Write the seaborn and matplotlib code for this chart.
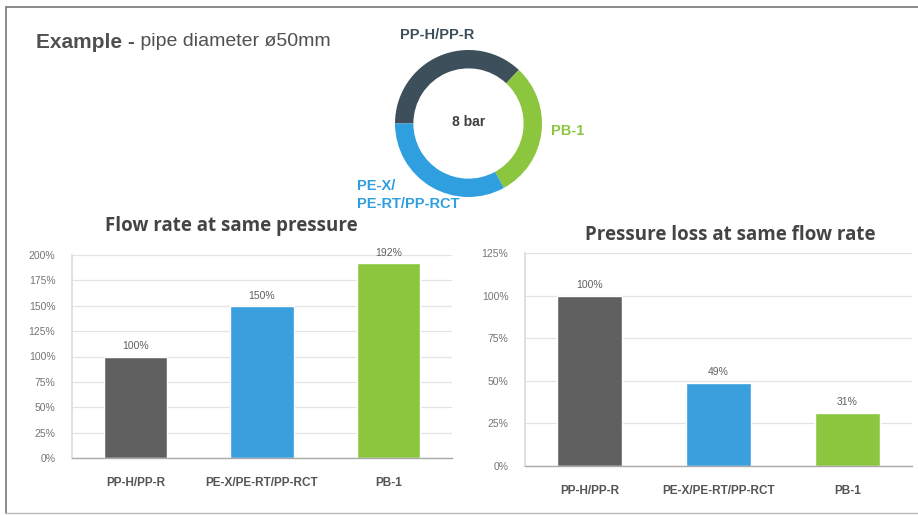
import matplotlib
matplotlib.use("Agg")
import matplotlib.pyplot as plt
import seaborn as sns
import pandas as pd

# ---- data ----
categories = ["PP-H/PP-R", "PE-X/PE-RT/PP-RCT", "PB-1"]
flow_rate = [100, 150, 192]
pressure_loss = [100, 49, 31]
flow_ticks = [0, 25, 50, 75, 100, 125, 150, 175, 200]
loss_ticks = [0, 25, 50, 75, 100, 125]
donut_labels = ["PP-H/PP-R", "PB-1", "PE-X/\nPE-RT/PP-RCT"]
donut_shares = [37, 30, 33]

bar_colors = ["#606060", "#3a9fdd", "#8cc63f"]
donut_colors = ["#3e4f5c", "#8cc63f", "#2f9fe0"]

sns.set_theme(style="white")
plt.rcParams['font.family'] = ['Liberation Sans', 'DejaVu Sans']

W, H = 918, 515
fig = plt.figure(figsize=(W / 100, H / 100), dpi=100)
fig.patch.set_facecolor("white")

def fx(x):
    return x / W

def fy(y):
    return 1 - y / H

# frame
fig.add_artist(plt.Line2D([fx(6), fx(6)], [fy(7), fy(513)], color="#777777", lw=1.2))
fig.add_artist(plt.Line2D([fx(6), fx(918)], [fy(7), fy(7)], color="#777777", lw=1.2))
fig.add_artist(plt.Line2D([fx(6), fx(918)], [fy(513), fy(513)], color="#bbbbbb", lw=1.0))

# header text
t1 = fig.text(fx(36), fy(42), "Example -", fontsize=15, fontweight="bold", color="#505050",
              va="center", ha="left")
fig.canvas.draw()
bb = t1.get_window_extent(renderer=fig.canvas.get_renderer())
fig.text(bb.x1 / W, fy(42), " pipe diameter ø50mm", fontsize=14, color="#505050",
         va="center", ha="left")

# ---- donut ----
dax = fig.add_axes([fx(395), fy(197), fx(147), 147 / H])
dax.pie(donut_shares, colors=donut_colors, startangle=180, counterclock=False,
        radius=1.0, wedgeprops=dict(width=0.25, edgecolor="none"))
dax.set_xlim(-1.0, 1.0)
dax.set_ylim(-1.0, 1.0)
dax.set_aspect("equal")
dax.text(0, 0.02, "8 bar", ha="center", va="center", fontsize=10, fontweight="bold",
         color="#404040")
fig.text(fx(437), fy(35), donut_labels[0], ha="center", va="center", fontsize=10.5,
         fontweight="bold", color=donut_colors[0])
fig.text(fx(551), fy(131), donut_labels[1], ha="left", va="center", fontsize=10.5,
         fontweight="bold", color=donut_colors[1])
fig.text(fx(357), fy(195), donut_labels[2], ha="left", va="center", fontsize=10.5,
         fontweight="bold", color=donut_colors[2], linespacing=1.3)

def style_axes(ax, ticks):
    ax.set_ylim(ticks[0], ticks[-1])
    ax.set_yticks(ticks)
    ax.set_yticklabels([f"{t}%" for t in ticks], fontsize=7.5, color="#757575")
    ax.yaxis.grid(True, color="#e3e3e3", lw=0.9)
    ax.set_axisbelow(True)
    for s in ["top", "right"]:
        ax.spines[s].set_visible(False)
    ax.spines["left"].set_color("#dddddd")
    ax.spines["bottom"].set_color("#aaaaaa")
    ax.spines["bottom"].set_linewidth(1.0)
    ax.tick_params(axis="y", length=0, pad=12)
    ax.tick_params(axis="x", length=0, pad=14)
    ax.set_xlabel("")
    ax.set_ylabel("")
    for lbl in ax.get_xticklabels():
        lbl.set_fontsize(8.5)
        lbl.set_fontweight("bold")
        lbl.set_color("#555555")

# ---- left chart ----
ax1 = fig.add_axes([fx(72), fy(458), fx(452 - 72), (458 - 255) / H])
df1 = pd.DataFrame({"cat": categories, "val": flow_rate})
sns.barplot(data=df1, x="cat", y="val", hue="cat", palette=bar_colors, width=0.5,
            legend=False, ax=ax1, saturation=1)
style_axes(ax1, flow_ticks)
ax1.set_xlim(-0.5, 2.5)
for i, v in enumerate(flow_rate):
    ax1.text(i, v + 5, f"{v}%", ha="center", va="bottom", fontsize=7.5, color="#606060")
ax1.set_title("Flow rate at same pressure", fontsize=13.5, fontweight="bold",
              color="#444444", family=["Open Sans", "DejaVu Sans"], pad=17, x=0.42)

# ---- right chart ----
ax2 = fig.add_axes([fx(525), fy(466), fx(912 - 525), (466 - 253) / H])
df2 = pd.DataFrame({"cat": categories, "val": pressure_loss})
sns.barplot(data=df2, x="cat", y="val", hue="cat", palette=bar_colors, width=0.5,
            legend=False, ax=ax2, saturation=1)
style_axes(ax2, loss_ticks)
ax2.set_xlim(-0.5, 2.5)
for i, v in enumerate(pressure_loss):
    ax2.text(i, v + 3.5, f"{v}%", ha="center", va="bottom", fontsize=7.5, color="#606060")
ax2.set_title("Pressure loss at same flow rate", fontsize=13.5, fontweight="bold",
              color="#444444", family=["Open Sans", "DejaVu Sans"], pad=9, x=0.53)

fig.savefig("out.png", dpi=100, facecolor="white")
